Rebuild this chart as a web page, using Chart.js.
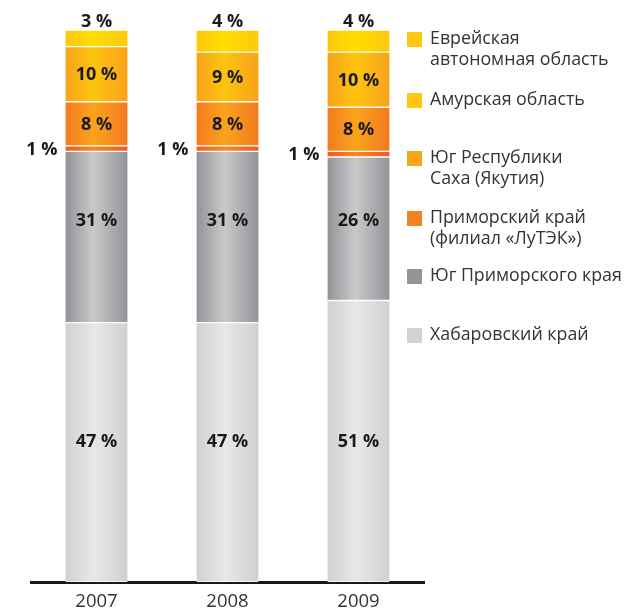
<!DOCTYPE html>
<html>
<head>
<meta charset="utf-8">
<script src="https://cdn.jsdelivr.net/npm/chart.js@4/dist/chart.umd.min.js"></script>
<style>
  html, body { margin: 0; padding: 0; background: #ffffff; }
  #wrap { width: 624px; height: 608px; position: relative; }
</style>
</head>
<body>
<div id="wrap"><canvas id="c"></canvas></div>
<script>
// ---- data ----
const years = ['2007', '2008', '2009'];
const khabarovsk = [47, 47, 51];
const southPrimorye = [31, 31, 26];
const primoryeLutek = [1, 1, 1];
const southYakutia = [8, 8, 8];
const amur = [10, 9, 10];
const jewishAO = [3, 4, 4];

const seriesLabels = {
  khabarovsk: ['Хабаровский край'],
  southPrimorye: ['Юг Приморского края'],
  primoryeLutek: ['Приморский край', '(филиал «ЛуТЭК»)'],
  southYakutia: ['Юг Республики', 'Саха (Якутия)'],
  amur: ['Амурская область'],
  jewishAO: ['Еврейская', 'автономная область']
};

// ---- styles ----
const BAR_W = 62;
function grad(edge, mid) {
  return function (ctx) {
    const chart = ctx.chart;
    if (!chart.chartArea || ctx.dataIndex === undefined) return edge;
    const cx = chart.scales.x.getPixelForValue(ctx.dataIndex);
    const g = chart.ctx.createLinearGradient(cx - BAR_W / 2, 0, cx + BAR_W / 2, 0);
    g.addColorStop(0, edge);
    g.addColorStop(0.45, mid);
    g.addColorStop(1, edge);
    return g;
  };
}

function ds(label, data, edge, mid, swatch, labelPos, rowShift) {
  return {
    label: label,
    data: data,
    backgroundColor: grad(edge, mid),
    swatch: swatch,
    labelPos: labelPos,
    rowShift: rowShift,
    borderColor: '#ffffff',
    borderWidth: { top: 1, bottom: 1, left: 0, right: 0 },
    borderSkipped: false,
    barThickness: BAR_W
  };
}

const datasets = [
  ds(seriesLabels.khabarovsk, khabarovsk, '#cfd0d2', '#e8e8e9', '#d1d2d4', 'row', 0),
  ds(seriesLabels.southPrimorye, southPrimorye, '#929497', '#c8c9cb', '#939598', 'row', -9),
  ds(seriesLabels.primoryeLutek, primoryeLutek, '#ee5a27', '#f58a20', '#f58220', 'left'),
  ds(seriesLabels.southYakutia, southYakutia, '#f37a21', '#f9a41b', '#f9a51b', 'inside'),
  ds(seriesLabels.amur, amur, '#f8a31b', '#fdc40d', '#fec80e', 'inside'),
  ds(seriesLabels.jewishAO, jewishAO, '#fdc80c', '#ffde00', '#fec80e', 'above')
];

const FONT = '"Open Sans", "Noto Sans", sans-serif';

const valueLabels = {
  id: 'valueLabels',
  afterDatasetsDraw(chart) {
    const c = chart.ctx;
    c.save();
    c.font = 'bold 18px ' + FONT;
    c.fillStyle = '#1a1a1a';
    chart.data.datasets.forEach((d, di) => {
      const meta = chart.getDatasetMeta(di);
      const props = meta.data.map(el => el.getProps(['x', 'y', 'base', 'width'], true));
      const rowY = Math.min(...props.map(p => (p.y + p.base) / 2));
      props.forEach((p, i) => {
        const txt = d.data[i] + ' %';
        c.textBaseline = 'middle';
        if (d.labelPos === 'inside') {
          c.textAlign = 'center';
          c.fillText(txt, p.x, (p.y + p.base) / 2 + 1);
        } else if (d.labelPos === 'row') {
          c.textAlign = 'center';
          c.fillText(txt, p.x, rowY + (d.rowShift || 0) + 1);
        } else if (d.labelPos === 'above') {
          c.textAlign = 'center';
          c.fillText(txt, p.x, p.y - 8);
        } else if (d.labelPos === 'left') {
          c.textAlign = 'right';
          c.fillText(txt, p.x - p.width / 2 - 8, (p.y + p.base) / 2 + 1);
        }
      });
    });
    c.restore();
  }
};

const sideLegend = {
  id: 'sideLegend',
  afterDraw(chart, args, opts) {
    const c = chart.ctx;
    c.save();
    c.font = '17.8px ' + FONT;
    c.textBaseline = 'middle';
    c.textAlign = 'left';
    const list = chart.data.datasets.slice().reverse();
    list.forEach((d, k) => {
      const cy = opts.rows[k];
      c.fillStyle = d.swatch;
      c.fillRect(opts.x, cy - 7, 15, 15);
      c.fillStyle = '#333333';
      d.label.forEach((line, j) => {
        c.fillText(line, opts.x + 23, cy + j * opts.lineH);
      });
    });
    c.restore();
  }
};

new Chart(document.getElementById('c'), {
  type: 'bar',
  data: { labels: years, datasets: datasets },
  plugins: [valueLabels, sideLegend],
  options: {
    responsive: true,
    maintainAspectRatio: false,
    animation: false,
    devicePixelRatio: 1,
    layout: { padding: { left: 31, right: 200, top: 30, bottom: 0 } },
    plugins: {
      legend: { display: false },
      tooltip: { enabled: false },
      sideLegend: { x: 407, rows: [39, 100, 158, 218, 276, 335], lineH: 21 }
    },
    scales: {
      x: {
        stacked: true,
        grid: { display: false, drawTicks: false },
        border: { display: true, color: '#1a1a1a', width: 3 },
        ticks: { color: '#333333', padding: 11, font: { family: FONT, size: 18.5, lineHeight: 0.95 } },
        afterFit(scale) { scale.height = 26; }
      },
      y: {
        stacked: true,
        display: false,
        min: 0,
        max: 100
      }
    }
  }
});
</script>
</body>
</html>
